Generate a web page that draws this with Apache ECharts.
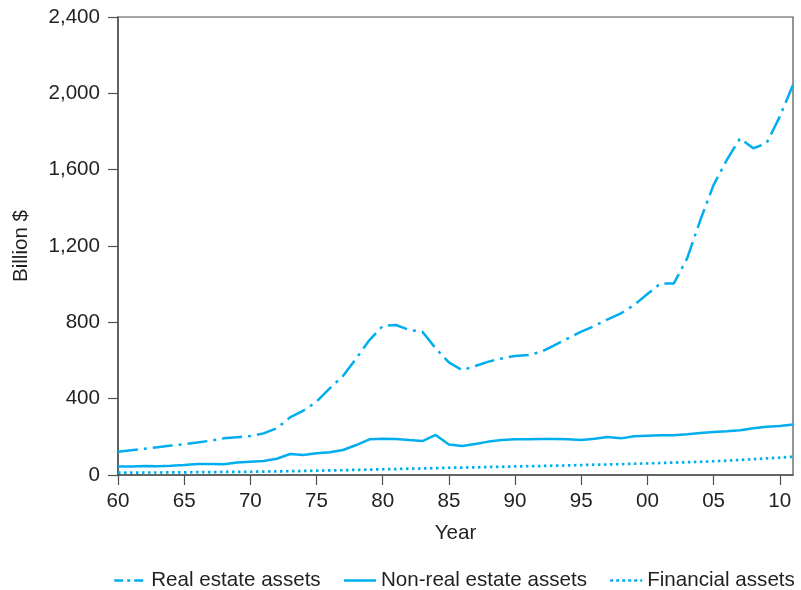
<!DOCTYPE html>
<html>
<head>
<meta charset="utf-8">
<script src="https://cdn.jsdelivr.net/npm/echarts@6/dist/echarts.min.js"></script>
<style>html,body{margin:0;padding:0;background:#fff;}#c{width:801px;height:590px;}</style>
</head>
<body>
<div id="c"></div>
<script>
const years = [];
for (let y = 1960; y <= 2011; y++) years.push(String(y));

const realEstate = [122,130,138,146,154,162,170,180,192,198,
  204,218,245,302,337,384,454,519,611,707,
  781,786,760,751,664,590,550,571,594,611,
  624,629,646,681,716,751,781,816,847,891,
  948,1004,1004,1135,1336,1520,1651,1764,1712,1738,
  1878,2044];
const nonRealEstate = [44,45,47,46,48,52,58,58,56,65,
  70,73,85,110,105,114,119,131,157,187,
  190,189,183,178,210,160,152,162,175,183,
  187,187,189,189,187,183,190,199,192,203,
  206,208,208,213,220,225,229,234,245,253,
  257,265];
const financial = [12,12,13,13,14,14,15,15,16,16,
  17,18,19,20,21,23,24,25,27,28,
  30,31,33,34,36,38,39,40,42,43,
  45,46,47,49,50,52,54,55,57,59,
  61,63,65,67,69,72,75,79,83,87,
  91,96];
const seriesNames = ['Real estate assets', 'Non-real estate assets', 'Financial assets'];
const yTicks = [0, 400, 800, 1200, 1600, 2000, 2400];

const color = '#00aeef';
const txt = '#231f20';
const axisCol = '#505050';
const font = 'Liberation Sans, Arial, sans-serif';
const fs = 20.6;

const chart = echarts.init(document.getElementById('c'), null, {renderer: 'canvas'});
chart.setOption({
  animation: false,
  backgroundColor: '#fff',
  grid: {left: 118, right: 8, top: 17, bottom: 115, show: true, borderColor: axisCol, borderWidth: 1.2, backgroundColor: 'transparent'},
  legend: {
    left: 113, top: 570, padding: 0, width: 688, itemWidth: 32, itemHeight: 14, itemGap: 22,
    textStyle: {fontFamily: font, fontSize: fs, color: txt},
    itemStyle: {opacity: 0},
    lineStyle: {width: 2.5},
    data: [
      {name: seriesNames[0], itemStyle: {opacity: 0}, lineStyle: {type: [9, 4, 3, 4], width: 2.5}},
      {name: seriesNames[1], itemStyle: {opacity: 0}, lineStyle: {width: 2.5}},
      {name: seriesNames[2], itemStyle: {opacity: 0}, lineStyle: {type: [3, 3], width: 2.5}}
    ]
  },
  xAxis: {
    type: 'category', data: years, boundaryGap: false,
    name: 'Year', nameLocation: 'middle', nameGap: 48,
    nameTextStyle: {fontFamily: font, fontSize: fs, color: txt},
    axisLine: {show: true, lineStyle: {color: axisCol, width: 1.5}},
    axisTick: {show: true, length: 10, interval: (i) => i % 5 === 0, lineStyle: {color: axisCol, width: 1.2}},
    axisLabel: {interval: (i) => i % 5 === 0, margin: 16, fontFamily: font, fontSize: fs, color: txt,
      formatter: (v) => v.slice(2)},
    splitLine: {show: false}
  },
  yAxis: {
    type: 'value', min: yTicks[0], max: yTicks[yTicks.length - 1], interval: 400,
    name: 'Billion $', nameLocation: 'middle', nameGap: 86, nameRotate: 90,
    nameTextStyle: {fontFamily: font, fontSize: fs, color: txt},
    axisLine: {show: true, lineStyle: {color: axisCol, width: 1.5}},
    axisTick: {show: true, length: 10, lineStyle: {color: axisCol, width: 1.2}},
    axisLabel: {margin: 18, fontFamily: font, fontSize: fs, color: txt,
      formatter: (v) => v.toLocaleString('en-US')},
    splitLine: {show: false}
  },
  series: [
    {name: seriesNames[0], type: 'line', data: realEstate, symbol: 'none', color: color,
     lineStyle: {color: color, width: 2.5, type: [20, 6, 3, 6]}},
    {name: seriesNames[1], type: 'line', data: nonRealEstate, symbol: 'none', color: color,
     lineStyle: {color: color, width: 2.5, type: 'solid'}},
    {name: seriesNames[2], type: 'line', data: financial, symbol: 'none', color: color,
     lineStyle: {color: color, width: 2.7, type: [2.5, 3.5]}}
  ]
});
</script>
</body>
</html>
